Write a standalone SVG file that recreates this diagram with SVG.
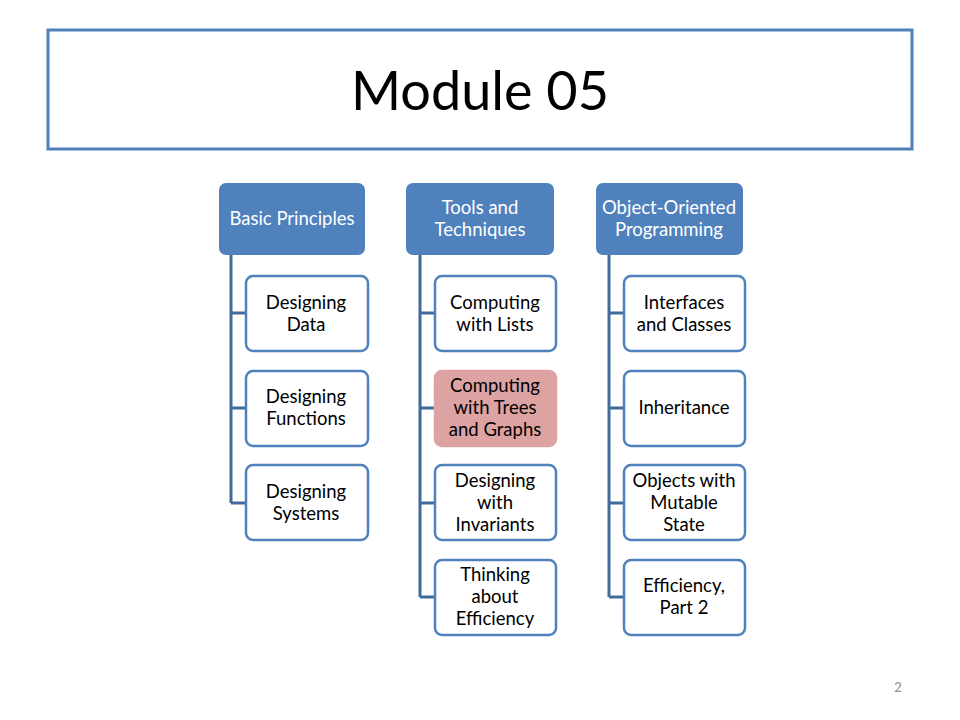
<svg xmlns="http://www.w3.org/2000/svg" width="960" height="720" viewBox="0 0 960 720">
  <style>
    .hdr rect { fill: #4F81BD; }
    .hdr text { fill: #FFFFFF; }
    .box rect { fill: #FFFFFF; stroke: #4F81BD; stroke-width: 2.5; }
    .box.hi rect { fill: #DCA3A2; stroke: #DCA3A2; }
    text { font-family: Lato, "Open Sans", "Liberation Sans", sans-serif; font-size: 18.5px; fill: #000000; text-anchor: middle; }
    .conn path { fill: none; stroke: #3F6A9A; stroke-width: 3; }
  </style>
  <rect x="0" y="0" width="960" height="720" fill="#FFFFFF"/>

  <g id="title">
    <rect x="48" y="30" width="864" height="119" fill="#FFFFFF" stroke="#4F81BD" stroke-width="3"/>
    <text x="480" y="110" style="font-size:54px">Module 05</text>
  </g>

  <g class="conn" id="connectors">
    <path d="M231 255 V503 M231 313 H246 M231 408 H246 M231 503 H246"/>
    <path d="M420 255 V597 M420 313 H435 M420 408 H435 M420 503 H435 M420 597 H435"/>
    <path d="M609 255 V597 M609 313 H624 M609 408 H624 M609 503 H624 M609 597 H624"/>
  </g>

  <!-- column headers -->
  <g id="h1" class="hdr">
    <rect x="219" y="183" width="146" height="72" rx="7"/>
    <text x="292" y="225">Basic Principles</text>
  </g>
  <g id="h2" class="hdr">
    <rect x="406" y="183" width="148" height="72" rx="7"/>
    <text x="480" y="214">Tools and</text>
    <text x="480" y="236">Techniques</text>
  </g>
  <g id="h3" class="hdr">
    <rect x="596" y="183" width="147" height="72" rx="7"/>
    <text x="669" y="214">Object-Oriented</text>
    <text x="669" y="236">Programming</text>
  </g>

  <!-- Basic Principles -->
  <g id="n1" class="box">
    <rect x="246" y="276" width="122" height="75" rx="7"/>
    <text x="306" y="309">Designing</text>
    <text x="306" y="331">Data</text>
  </g>
  <g id="n2" class="box">
    <rect x="246" y="371" width="122" height="75" rx="7"/>
    <text x="306" y="403">Designing</text>
    <text x="306" y="425">Functions</text>
  </g>
  <g id="n3" class="box">
    <rect x="246" y="465" width="122" height="75" rx="7"/>
    <text x="306" y="498">Designing</text>
    <text x="306" y="520">Systems</text>
  </g>

  <!-- Tools and Techniques -->
  <g id="n4" class="box">
    <rect x="435" y="276" width="121" height="75" rx="7"/>
    <text x="495" y="309">Computing</text>
    <text x="495" y="331">with Lists</text>
  </g>
  <g id="n5" class="box hi">
    <rect x="435" y="371" width="121" height="75" rx="7"/>
    <text x="495" y="392">Computing</text>
    <text x="495" y="414">with Trees</text>
    <text x="495" y="436">and Graphs</text>
  </g>
  <g id="n6" class="box">
    <rect x="435" y="465" width="121" height="75" rx="7"/>
    <text x="495" y="487">Designing</text>
    <text x="495" y="509">with</text>
    <text x="495" y="531">Invariants</text>
  </g>
  <g id="n7" class="box">
    <rect x="435" y="560" width="121" height="75" rx="7"/>
    <text x="495" y="581">Thinking</text>
    <text x="495" y="603">about</text>
    <text x="495" y="625">Efficiency</text>
  </g>

  <!-- Object-Oriented Programming -->
  <g id="n8" class="box">
    <rect x="624" y="276" width="121" height="75" rx="7"/>
    <text x="684" y="309">Interfaces</text>
    <text x="684" y="331">and Classes</text>
  </g>
  <g id="n9" class="box">
    <rect x="624" y="371" width="121" height="75" rx="7"/>
    <text x="684" y="414">Inheritance</text>
  </g>
  <g id="n10" class="box">
    <rect x="624" y="465" width="121" height="75" rx="7"/>
    <text x="684" y="487">Objects with</text>
    <text x="684" y="509">Mutable</text>
    <text x="684" y="531">State</text>
  </g>
  <g id="n11" class="box">
    <rect x="624" y="560" width="121" height="75" rx="7"/>
    <text x="684" y="592">Efficiency,</text>
    <text x="684" y="614">Part 2</text>
  </g>

  <text x="898" y="692" style="font-size:13px;fill:#8C8C8C">2</text>
</svg>
